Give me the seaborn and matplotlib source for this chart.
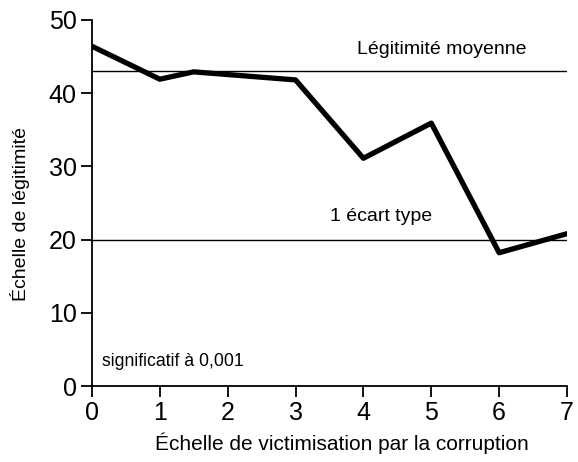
import matplotlib
matplotlib.use("Agg")
import matplotlib.pyplot as plt
import seaborn as sns
import pandas as pd

victimisation = [0, 1, 1.5, 3, 4, 5, 6, 7]
legitimite = [46.4, 41.9, 42.9, 41.8, 31.1, 35.9, 18.2, 20.8]
moyenne = 43
ecart_type = 20
x_ticks = [0, 1, 2, 3, 4, 5, 6, 7]
y_ticks = [0, 10, 20, 30, 40, 50]

sns.set_theme(style="ticks")
plt.rcParams['font.family'] = ['Liberation Sans', 'DejaVu Sans']

df = pd.DataFrame({"x": victimisation, "y": legitimite})

fig = plt.figure(figsize=(5.78, 4.62), dpi=100)
ax = fig.add_axes([0.159, 0.1645, 0.822, 0.7925])

ax.axhline(moyenne, color="black", lw=1.0, zorder=1)
ax.axhline(ecart_type, color="black", lw=1.0, zorder=1)
sns.lineplot(data=df, x="x", y="y", ax=ax, color="black", lw=3.8, sort=False, zorder=3)

ax.set_xlim(0, 7)
ax.set_ylim(0, 50)
ax.set_xticks(x_ticks)
ax.set_yticks(y_ticks)
ax.tick_params(axis="both", direction="out", length=8, width=1.3, labelsize=18, color="black", labelcolor="black", pad=3)
for s in ["top", "right"]:
    ax.spines[s].set_visible(False)
for s in ["left", "bottom"]:
    ax.spines[s].set_color("black")
    ax.spines[s].set_linewidth(1.3)

ax.set_xlabel("Échelle de victimisation par la corruption", fontsize=15, color="black")
ax.set_ylabel("Échelle de légitimité", fontsize=14, color="black")
ax.xaxis.set_label_coords(0.526, -0.156)
ax.yaxis.set_label_coords(-0.152, 0.47)
for lab in (ax.xaxis.label, ax.yaxis.label):
    lab.set_va("center")
    lab.set_ha("center")

ax.text(5.16, 45.9, "Légitimité moyenne", ha="center", va="center", fontsize=14, color="black")
ax.text(4.26, 23.1, "1 écart type", ha="center", va="center", fontsize=14, color="black")
ax.text(0.15, 3.3, "significatif à 0,001", ha="left", va="center", fontsize=12.7, color="black")

fig.savefig("out.png", dpi=100)
